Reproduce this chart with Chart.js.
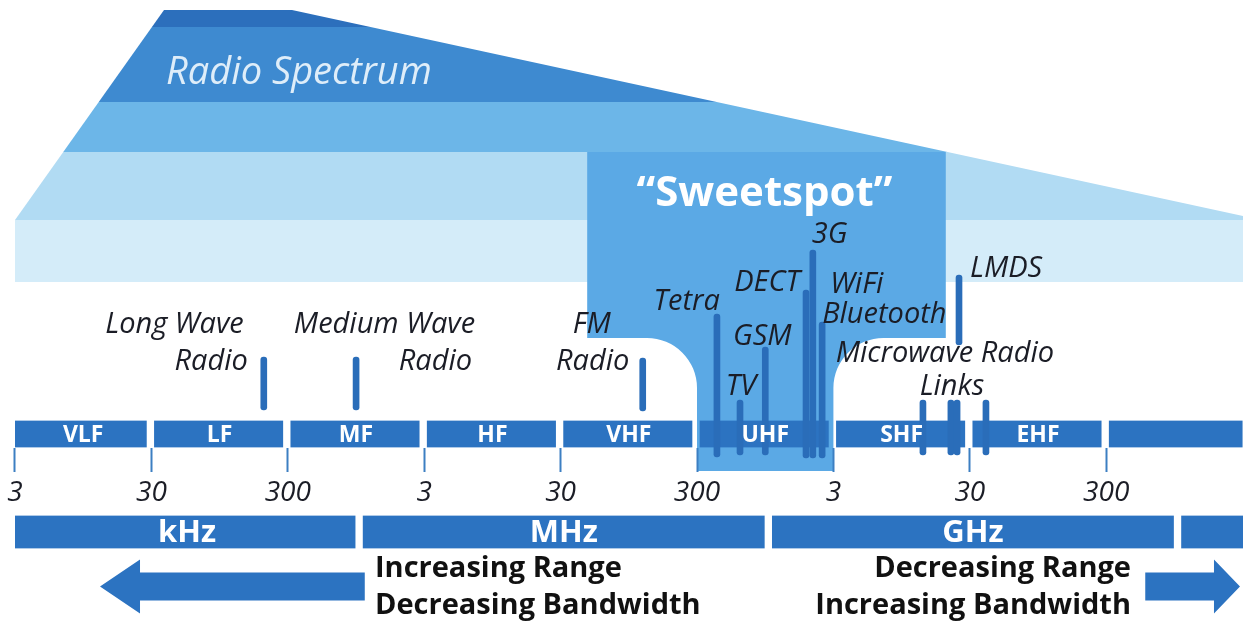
<!DOCTYPE html>
<html>
<head>
<meta charset="utf-8">
<title>Radio Spectrum</title>
<script src="https://cdn.jsdelivr.net/npm/chart.js@4.4.1/dist/chart.umd.min.js"></script>
<style>
  html, body { margin: 0; padding: 0; background: #ffffff; }
  #chart-container { width: 1243px; height: 622px; position: relative; }
</style>
</head>
<body>
<div id="chart-container"><canvas id="chart"></canvas></div>
<script>
// ---- data (frequencies in Hz) ----
const bandNames = ["VLF", "LF", "MF", "HF", "VHF", "UHF", "SHF", "EHF", ""];
const bandLow   = [3e3, 3e4, 3e5, 3e6, 3e7, 3e8, 3e9, 3e10, 3e11];
const bandHigh  = [3e4, 3e5, 3e6, 3e7, 3e8, 3e9, 3e10, 3e11, 3e12];

const tickValues = [3e3, 3e4, 3e5, 3e6, 3e7, 3e8, 3e9, 3e10, 3e11];
const tickLabels = ["3", "30", "300", "3", "30", "300", "3", "30", "300"];

const unitNames = ["kHz", "MHz", "GHz", ""];
const unitLow   = [3e3, 1e6, 1e9, 1e12];
const unitHigh  = [1e6, 1e9, 1e12, 3.1e12];

// one entry per service (label lines)
const services = [
    ["Long Wave", "Radio"],
    ["Medium Wave", "Radio"],
    ["FM", "Radio"],
    ["Tetra"],
    ["TV"],
    ["GSM"],
    ["DECT"],
    ["3G"],
    ["WiFi", "Bluetooth"],
    ["Microwave Radio", "Links"],
    ["LMDS"]
];

// spikes: frequency, top and bottom of each line (height scale), owning service
const spikeFreqs   = [2.0e5, 9.5e5, 1.2e8, 4.2e8, 6.2e8, 9.5e8, 1.89e9, 2.12e9, 2.48e9, 1.36e10, 2.18e10, 2.42e10, 3.94e10, 2.5e10];
const spikeTops    = [357, 357, 358, 314, 400, 347, 290, 250, 322, 400, 400, 400, 400, 275];
const spikeBottoms = [410, 410, 411, 457, 455, 455, 458, 458, 458, 455, 455, 455, 455, 345];
const spikeService = [0, 1, 2, 3, 4, 5, 6, 7, 8, 9, 9, 9, 9, 10];

// "sweetspot" frequency ranges: narrow core and wide top
const sweetCore = [3e8, 3e9];
const sweetWide = [4.7e7, 2.0e10];

const trendLeft  = ["Increasing Range", "Decreasing Bandwidth"];
const trendRight = ["Decreasing Range", "Increasing Bandwidth"];
// arrows: [from, to] in Hz
const arrowSpans = [[1.1e6, 1.26e4], [5.8e11, 2.87e12]];

// ---- layout / style ----
const X_MIN = 2329, X_MAX = 3.02e12;
const BAND_ROW = 434, UNIT_ROW = 532, AXIS_Y = 448;
const BLUE = "#2c73c1";
const SPIKE_BLUE = "#2a6db9";
const SWEET = "#5ba9e5";
const INK = "#1b1d26";
const FONT = '"Open Sans", "Noto Sans", sans-serif';

const wedgeStripes = [
    [10, 27, "#2c6fbc"],
    [27, 102, "#3e8ad0"],
    [102, 152, "#6cb6e8"],
    [152, 220, "#b1dbf3"],
    [220, 282, "#d4ecf9"]
];

// label placement relative to the first spike of each service
const serviceLabelPos = [
    {align: "right",  dx: [-20, -16], y: [333, 370]},
    {align: "right",  dx: [119, 116], y: [333, 370]},
    {align: "center", dx: [-51, -50], y: [333, 370]},
    {align: "right",  dx: [3],        y: [310]},
    {align: "center", dx: [1],        y: [395]},
    {align: "center", dx: [-3],       y: [345]},
    {align: "right",  dx: [-6],       y: [291]},
    {align: "left",   dx: [-1],       y: [243]},
    {align: "left",   dx: [8, 0],     y: [293, 323]},
    {align: "center", dx: [22, 29],   y: [362, 395]},
    {align: "left",   dx: [11],       y: [277]}
];

const backgroundPlugin = {
    id: "background",
    beforeDraw(chart) {
        const ctx = chart.ctx;
        const xs = chart.scales.x, ys = chart.scales.y;
        const W = chart.width;
        const py = v => ys.getPixelForValue(v);

        // spectrum wedge
        ctx.save();
        ctx.beginPath();
        ctx.moveTo(164, py(10));
        ctx.lineTo(292, py(10));
        ctx.lineTo(W, py(216));
        ctx.lineTo(W, py(282));
        ctx.lineTo(15, py(282));
        ctx.lineTo(15, py(220));
        ctx.closePath();
        ctx.clip();
        wedgeStripes.forEach(([a, b, c]) => {
            ctx.fillStyle = c;
            ctx.fillRect(0, py(a), W, py(b) - py(a));
        });
        ctx.restore();

        // sweetspot
        const l = xs.getPixelForValue(sweetWide[0]);
        const r = xs.getPixelForValue(sweetWide[1]);
        const cl = xs.getPixelForValue(sweetCore[0]);
        const cr = xs.getPixelForValue(sweetCore[1]);
        const R = 50;
        const top = py(152), shoulder = py(338), bottom = py(471);
        ctx.save();
        ctx.fillStyle = SWEET;
        ctx.beginPath();
        ctx.moveTo(l, top);
        ctx.lineTo(l, shoulder);
        ctx.lineTo(cl - R, shoulder);
        ctx.arc(cl - R, shoulder + R, R, -Math.PI / 2, 0, false);
        ctx.lineTo(cl, bottom);
        ctx.lineTo(cr, bottom);
        ctx.lineTo(cr, shoulder + R);
        ctx.arc(cr + R, shoulder + R, R, Math.PI, 1.5 * Math.PI, false);
        ctx.lineTo(r, shoulder);
        ctx.lineTo(r, top);
        ctx.closePath();
        ctx.fill();

        // titles
        ctx.fillStyle = "#deedf9";
        ctx.font = "italic 38px " + FONT;
        ctx.textAlign = "left";
        ctx.textBaseline = "alphabetic";
        ctx.fillText("Radio Spectrum", 166, py(84));

        ctx.fillStyle = "#ffffff";
        ctx.font = "bold 42px " + FONT;
        ctx.textAlign = "center";
        ctx.fillText("\u201CSweetspot\u201D", (l + r) / 2 - 2, py(206));
        ctx.restore();
    }
};

const labelPlugin = {
    id: "labels",
    afterDatasetsDraw(chart) {
        const ctx = chart.ctx;
        const xs = chart.scales.x, ys = chart.scales.y;
        const py = v => ys.getPixelForValue(v);
        ctx.save();

        // band and unit names inside the bars
        ctx.fillStyle = "#ffffff";
        ctx.textAlign = "center";
        ctx.textBaseline = "middle";
        ctx.font = "bold 23px " + FONT;
        chart.getDatasetMeta(1).data.forEach((el, i) => {
            ctx.fillText(bandNames[i], (el.x + el.base) / 2, el.y + 1);
        });
        ctx.font = "bold 31px " + FONT;
        chart.getDatasetMeta(2).data.forEach((el, i) => {
            ctx.fillText(unitNames[i], (el.x + el.base) / 2, el.y + 1);
        });

        // service names
        ctx.fillStyle = INK;
        ctx.textBaseline = "alphabetic";
        ctx.font = "italic 29px " + FONT;
        services.forEach((lines, s) => {
            const k = spikeService.indexOf(s);
            const x0 = xs.getPixelForValue(spikeFreqs[k]);
            const pos = serviceLabelPos[s];
            ctx.textAlign = pos.align;
            lines.forEach((t, j) => ctx.fillText(t, x0 + pos.dx[j], py(pos.y[j])));
        });

        // arrows
        ctx.fillStyle = BLUE;
        arrowSpans.forEach(([from, to], i) => {
            const xa = xs.getPixelForValue(from), xb = xs.getPixelForValue(to);
            const dir = Math.sign(xb - xa);
            const head = i === 0 ? 40 : 26;
            const cy = py(586.5), sh = 14, hh = 27;
            const xh = xb - dir * head;
            ctx.beginPath();
            ctx.moveTo(xa, cy - sh);
            ctx.lineTo(xh, cy - sh);
            ctx.lineTo(xh, cy - hh);
            ctx.lineTo(xb, cy);
            ctx.lineTo(xh, cy + hh);
            ctx.lineTo(xh, cy + sh);
            ctx.lineTo(xa, cy + sh);
            ctx.closePath();
            ctx.fill();
        });

        // trend text
        ctx.fillStyle = "#111111";
        ctx.font = "bold 29px " + FONT;
        ctx.textAlign = "left";
        ctx.fillText(trendLeft[0], 375, py(577));
        ctx.fillText(trendLeft[1], 375, py(614));
        ctx.textAlign = "right";
        ctx.fillText(trendRight[0], 1131, py(577));
        ctx.fillText(trendRight[1], 1131, py(614));
        ctx.restore();
    }
};

const bandData = bandNames.map((n, i) => ({x: [bandLow[i], bandHigh[i]], y: BAND_ROW}));
const unitData = unitNames.map((n, i) => ({x: [unitLow[i], unitHigh[i]], y: UNIT_ROW}));
const spikeData = spikeFreqs.map((f, i) => ({x: f, y: [spikeTops[i], spikeBottoms[i]]}));

new Chart(document.getElementById("chart").getContext("2d"), {
    type: "bar",
    data: {
        datasets: [{
            label: "Services",
            data: spikeData,
            indexAxis: "x",
            xAxisID: "x",
            yAxisID: "y",
            backgroundColor: SPIKE_BLUE,
            barThickness: 6,
            grouped: false,
            borderSkipped: false,
            borderRadius: 3,
            order: 0
        },
        {
            label: "Bands",
            data: bandData,
            indexAxis: "y",
            xAxisID: "x",
            yAxisID: "y",
            backgroundColor: BLUE,
            borderColor: "rgba(0,0,0,0)",
            borderSkipped: false,
            borderWidth: c => ({left: c.dataIndex === 0 ? 0 : 3, right: c.dataIndex === bandNames.length - 1 ? 0 : 5, top: 0, bottom: 0}),
            barThickness: 27,
            grouped: false,
            order: 1
        },
        {
            label: "Units",
            data: unitData,
            indexAxis: "y",
            xAxisID: "x",
            yAxisID: "y",
            backgroundColor: BLUE,
            borderColor: "rgba(0,0,0,0)",
            borderSkipped: false,
            borderWidth: c => ({left: c.dataIndex === 0 ? 0 : 4, right: c.dataIndex === unitNames.length - 1 ? 0 : 4, top: 0, bottom: 0}),
            barThickness: 33,
            grouped: false,
            order: 1
        }]
    },
    options: {
        responsive: true,
        maintainAspectRatio: false,
        animation: false,
        layout: {padding: 0},
        plugins: {
            legend: {display: false},
            tooltip: {enabled: false},
            title: {display: false}
        },
        scales: {
            x: {
                type: "logarithmic",
                min: X_MIN,
                max: X_MAX,
                bounds: "data",
                offset: false,
                position: {y: AXIS_Y},
                afterBuildTicks: axis => {
                    axis.ticks = tickValues.map(v => ({value: v}));
                },
                ticks: {
                    autoSkip: false,
                    maxRotation: 0,
                    padding: 4,
                    color: INK,
                    font: {family: FONT, size: 28, style: "italic"},
                    callback: (value, index) => tickLabels[index]
                },
                grid: {
                    offset: false,
                    drawOnChartArea: false,
                    drawTicks: true,
                    tickLength: 24,
                    tickWidth: 2,
                    tickColor: "#3c7fc2"
                },
                border: {display: false}
            },
            y: {
                type: "linear",
                min: 0,
                max: 622,
                bounds: "data",
                offset: false,
                reverse: true,
                display: false,
                grid: {offset: false}
            }
        }
    },
    plugins: [backgroundPlugin, labelPlugin]
});
</script>
</body>
</html>
